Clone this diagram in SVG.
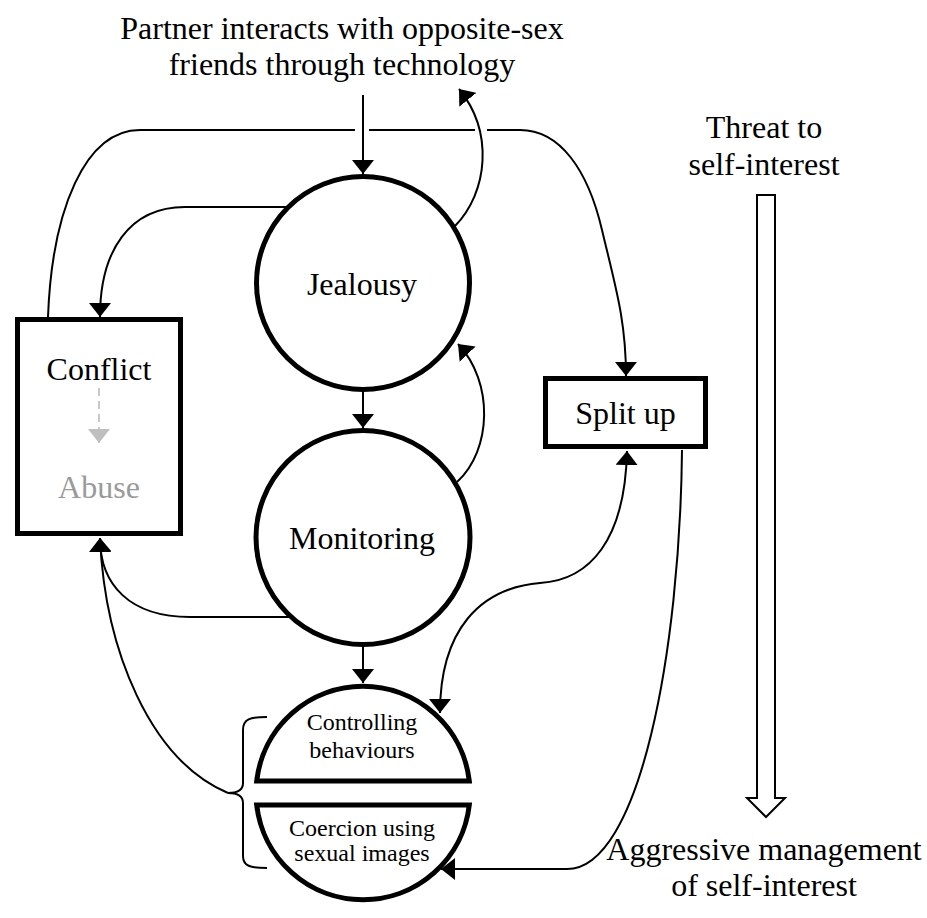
<svg xmlns="http://www.w3.org/2000/svg" width="927" height="918" viewBox="0 0 927 918">
  <style>
    .label { font-family: "Liberation Serif", "Times New Roman", serif; fill: #000; text-anchor: middle; }
    .big { font-size: 32px; }
    .small { font-size: 24px; }
    .node { fill: #fff; stroke: #000; stroke-width: 5; }
    .link { fill: none; stroke: #000; stroke-width: 2; }
    .arrow { marker-end: url(#head); }
    .both { marker-start: url(#head); marker-end: url(#head); }
  </style>
  <defs>
    <marker id="head" viewBox="0 0 14 22" refX="14" refY="11" markerWidth="14" markerHeight="22" markerUnits="userSpaceOnUse" orient="auto-start-reverse">
      <path d="M0,0 L14,11 L0,22 z" fill="#000"/>
    </marker>
    <marker id="greyhead" viewBox="0 0 14 22" refX="14" refY="11" markerWidth="14" markerHeight="22" markerUnits="userSpaceOnUse" orient="auto">
      <path d="M0,0 L14,11 L0,22 z" fill="#bfbfbf"/>
    </marker>
  </defs>

  <rect width="927" height="918" fill="#fff"/>

  <!-- trigger text -->
  <g id="trigger">
    <text class="label big" x="342" y="39">Partner interacts with opposite-sex</text>
    <text class="label big" x="342" y="75">friends through technology</text>
  </g>

  <!-- nodes -->
  <g id="conflict">
    <rect class="node" x="17.5" y="319.5" width="163" height="214"/>
    <text class="label big" x="99" y="380">Conflict</text>
    <line x1="99" y1="388" x2="99" y2="443" stroke="#c8c8c8" stroke-width="2" stroke-dasharray="8,5" marker-end="url(#greyhead)"/>
    <text class="label big" x="99" y="498" style="fill:#9a9a9a">Abuse</text>
  </g>

  <g id="jealousy">
    <circle class="node" cx="363" cy="283" r="106.5"/>
    <text class="label big" x="362" y="295">Jealousy</text>
  </g>

  <g id="monitoring">
    <circle class="node" cx="363" cy="537.5" r="107"/>
    <text class="label big" x="362" y="549">Monitoring</text>
  </g>

  <g id="split-up">
    <rect class="node" x="545.5" y="378.5" width="160" height="68"/>
    <text class="label big" x="625.5" y="424">Split up</text>
  </g>

  <g id="controlling">
    <path class="node" d="M256.7,781 A107,107 0 0 1 469.3,781 Z"/>
    <text class="label small" x="362" y="730">Controlling</text>
    <text class="label small" x="362" y="758">behaviours</text>
  </g>

  <g id="coercion">
    <path class="node" d="M256.7,805 A107,107 0 0 0 469.3,805 Z"/>
    <text class="label small" x="362" y="836">Coercion using</text>
    <text class="label small" x="362" y="861">sexual images</text>
  </g>

  <!-- scale of threat on the right -->
  <g id="scale">
    <text class="label big" x="764" y="138">Threat to</text>
    <text class="label big" x="764" y="175">self-interest</text>
    <polygon points="757,195 775,195 775,798 785,798 766,817 747,798 757,798" fill="#fff" stroke="#000" stroke-width="2"/>
    <text class="label big" x="764" y="860">Aggressive management</text>
    <text class="label big" x="764" y="896">of self-interest</text>
  </g>

  <!-- connectors -->
  <g id="connectors">
    <!-- trigger into jealousy -->
    <line class="link arrow" x1="363" y1="95" x2="363" y2="174"/>
    <!-- conflict over the top to split up (broken where lines cross) -->
    <path class="link" d="M48,317 C52,210 85,130 140,130 L355,130 M369,130 L475,130"/>
    <path class="link arrow" d="M487,130 L520,130 C560,130 588,170 602,230 C615,285 626,320 626,376"/>
    <!-- jealousy back up to the trigger -->
    <path class="link arrow" d="M455,226 C488,192 494,132 459,89"/>
    <!-- jealousy to conflict -->
    <path class="link arrow" d="M290,207 L185,207 C130,207 100,250 100,317"/>
    <!-- jealousy to monitoring -->
    <line class="link arrow" x1="363" y1="392" x2="363" y2="428"/>
    <!-- monitoring back to jealousy -->
    <path class="link arrow" d="M457,482 C492,450 494,382 458,344"/>
    <!-- monitoring to conflict -->
    <path class="link arrow" d="M291,617 L190,617 C130,617 100,585 100,538"/>
    <!-- monitoring to controlling -->
    <line class="link arrow" x1="363" y1="647" x2="363" y2="683"/>
    <!-- controlling and split up, both ways -->
    <path class="link both" d="M627,451 C625,540 590,580 540,583 C480,588 440,630 440,713"/>
    <!-- split up to coercion -->
    <path class="link arrow" d="M682,450 C680,650 640,869 567,869 L441,869"/>
    <!-- brace grouping the two behaviours, leading back to conflict -->
    <path class="link" d="M267,717 C250,717 243,719 243,730 L243,783 C243,790 238,793 228,793 C238,793 243,796 243,803 L243,856 C243,866 250,868 267,868"/>
    <path class="link arrow" d="M228,793 C150,760 105,650 100,538"/>
  </g>
</svg>
